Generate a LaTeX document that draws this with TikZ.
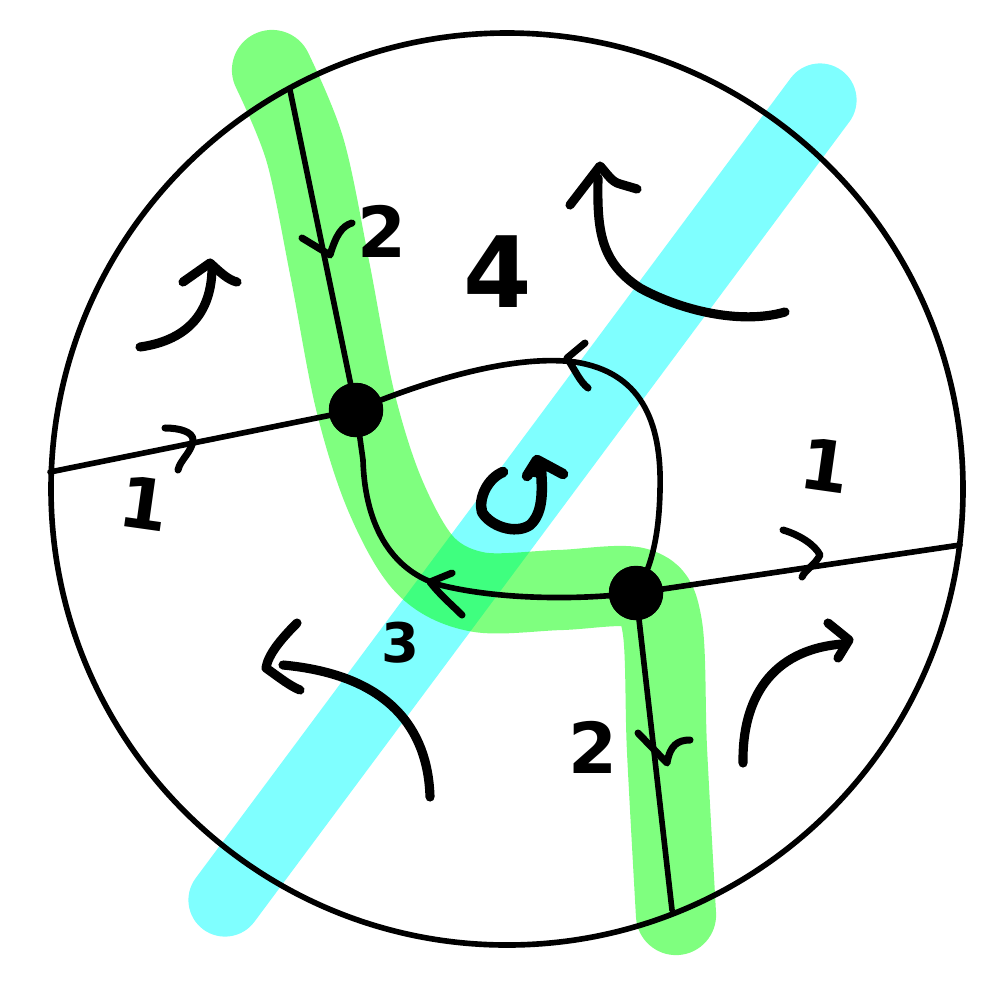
\documentclass[tikz,border=0pt]{standalone}
\usepackage{fontspec}
\setmainfont{DejaVu Sans}
\definecolor{bandcyan}{RGB}{0,255,255}
\definecolor{bandgreen}{RGB}{0,255,0}
\begin{document}
\begin{tikzpicture}[x=0.01cm,y=-0.01cm,
  line join=round, line cap=round,
  cyanband/.style={draw=bandcyan, draw opacity=0.5, line width=20.8pt},
  greenband/.style={draw=bandgreen, draw opacity=0.5, line width=22.8pt},
  thinline/.style={draw=black, line width=1.6pt},
  chev/.style={draw=black, line width=2.0pt},
  bigarrow/.style={draw=black, line width=2.6pt},
  blob/.style={circle, fill=black, inner sep=0pt, minimum size=15.5pt},
  lbl/.style={font=\bfseries\fontsize{20}{24}\selectfont, inner sep=0pt}
]
\useasboundingbox (0,0) rectangle (1001,1000);
% bands
\draw[cyanband] (225,900) -- (820,100);
\draw[greenband] plot[smooth, tension=0.55] coordinates {(272,70) (305,150) (330,270) (355,400) (385,495) (425,565) (478,592) (560,590) (638,588) (662,625) (667,750) (676,915)};
% outer circle
\coordinate (ctr) at (507,489);
\draw[thinline] (ctr) circle[radius=456];
% endpoints on the circle
\coordinate (tL) at (290,90);
\coordinate (bR) at (672,910);
\coordinate (lL) at (50,472);
\coordinate (rR) at (960,545);
% vertices
\node[blob] (n1) at (356,410) {};
\node[blob] (n2) at (636,593) {};
% lines
\draw[thinline] (tL) -- (n1.center);
\draw[thinline] (n2.center) -- (bR);
\draw[thinline] (lL) -- (n1.center);
\draw[thinline] (n2.center) -- (rR);
% inner loop
\draw[thinline] (n1.center) .. controls (440,375) and (520,355) .. (575,362)
  .. controls (640,372) and (662,420) .. (660,490)
  .. controls (659,540) and (650,570) .. (n2.center);
\draw[thinline] (n2.center) .. controls (580,600) and (500,600) .. (440,585)
  .. controls (395,572) and (365,530) .. (363,460) -- (n1.center);
% redraw blobs on top
\fill (n1) circle[radius=27];
\fill (n2) circle[radius=27];
% chevrons on lines
\draw[chev] (302,238) -- (330,255) .. controls (336,235) and (342,226) .. (352,223);
\draw[chev] (165,428) .. controls (180,428) and (193,432) .. (193,440) .. controls (192,452) and (180,460) .. (178,470);
\draw[chev] (783,530) .. controls (800,535) and (815,545) .. (820,555) .. controls (815,565) and (805,570) .. (802,577);
\draw[chev] (638,733) -- (667,763) .. controls (670,745) and (678,740) .. (690,740);
\draw[chev] (585,343) -- (567,358) .. controls (575,370) and (580,382) .. (588,388);
\draw[chev] (452,573) -- (430,582) .. controls (440,595) and (452,605) .. (462,615);
% big curved arrows
\draw[bigarrow] (140,347) .. controls (190,340) and (212,310) .. (212,267);
\draw[bigarrow] (183,282) -- (210,263) .. controls (220,272) and (228,280) .. (237,282);
\draw[bigarrow] (785,312) .. controls (740,325) and (680,310) .. (640,288) .. controls (600,262) and (597,230) .. (598,178);
\draw[bigarrow] (570,205) -- (600,166) .. controls (608,175) and (612,182) .. (620,184) -- (637,189);
\draw[bigarrow] (430,797) .. controls (428,730) and (390,675) .. (283,665);
\draw[bigarrow] (297,623) .. controls (280,640) and (268,655) .. (266,668) .. controls (280,678) and (290,686) .. (300,690);
\draw[bigarrow] (743,763) .. controls (742,700) and (770,650) .. (842,644);
\draw[bigarrow] (828,623) -- (849,640) -- (838,658);
% rotation arrow in the middle
\draw[line width=3pt] (503,472) .. controls (488,478) and (478,498) .. (482,512)
  .. controls (490,526) and (515,535) .. (530,525) .. controls (542,514) and (543,495) .. (541,470);
\draw[line width=3pt] (527,476) -- (537,460) -- (563,474);
\fill (527,476) -- (537,460) -- (550,467) -- (541,478) -- cycle;
% labels
\node[lbl] (l2a) at (382,231) {2};
\node[lbl, font=\bfseries\fontsize{28}{32}\selectfont] (l4) at (498,272) {4};
\node[lbl, rotate=-8] (l1r) at (825,466) {1};
\node[lbl, rotate=-8] (l1l) at (144,504) {1};
\node[lbl, font=\bfseries\fontsize{15.5}{18}\selectfont] (l3) at (400,643) {3};
\node[lbl] (l2b) at (593,747) {2};
\end{tikzpicture}
\end{document}
